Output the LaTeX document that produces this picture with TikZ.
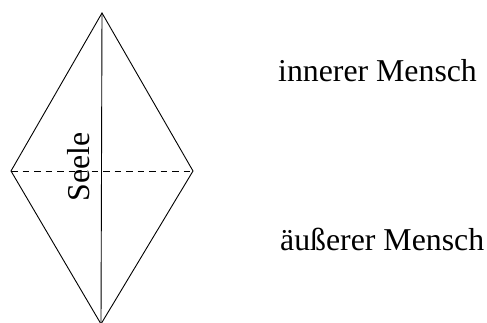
\documentclass[tikz,border=0pt]{standalone}
\usepackage{fontspec}
\setmainfont{Liberation Serif}
\begin{document}
\begin{tikzpicture}[x=1pt,y=-1pt,
  edge/.style={line width=0.9pt,black},
  lbl/.style={font=\fontsize{31.8}{38}\selectfont,inner sep=0pt}]
\useasboundingbox (0,0) rectangle (487,323);
\coordinate (T) at (102,13);
\coordinate (L) at (11,171);
\coordinate (R) at (193,171);
\coordinate (B) at (101,324);
\draw[edge] (T) -- (L) -- (B) -- (R) -- cycle;
\draw[edge] (T) -- (B);
\draw[edge,dashed,dash pattern=on 6.5pt off 5pt] (L) -- (R);
\node[lbl,rotate=90,anchor=base] (seele) at (89,167) {Seele};
\node[lbl,anchor=base west] (inner) at (278,82) {innerer Mensch};
\node[lbl,anchor=base west] (outer) at (280,250) {äußerer Mensch};
\end{tikzpicture}
\end{document}
